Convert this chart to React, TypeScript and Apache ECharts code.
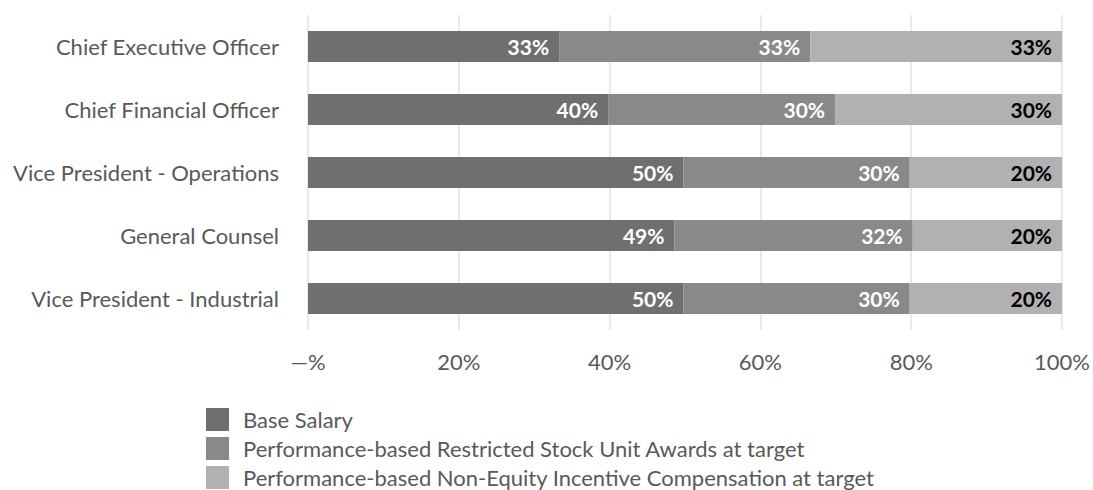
import React, { useEffect, useRef } from "react";
import * as echarts from "echarts";

const categories = [
  "Chief Executive Officer",
  "Chief Financial Officer",
  "Vice President - Operations",
  "General Counsel",
  "Vice President - Industrial",
];
const baseSalary = [33.3, 39.8, 49.8, 48.6, 49.8];
const rsuAwards = [33.3, 30.1, 30.0, 31.6, 30.0];
const nonEquity = [33.4, 30.1, 20.2, 19.8, 20.2];
const baseLabels = ["33%", "40%", "50%", "49%", "50%"];
const rsuLabels = ["33%", "30%", "30%", "32%", "30%"];
const nonEquityLabels = ["33%", "30%", "20%", "20%", "20%"];
const seriesNames = [
  "Base Salary",
  "Performance-based Restricted Stock Unit Awards at target",
  "Performance-based Non-Equity Incentive Compensation at target",
];
const xTicks = [0, 20, 40, 60, 80, 100];

const FONT = "Lato";
const TEXT = "#595959";

export default function App() {
  const ref = useRef<HTMLDivElement>(null);
  useEffect(() => {
    if (!ref.current) return;
    const chart = echarts.init(ref.current, null, { renderer: "svg" });
    const mk = (
      name: string,
      data: number[],
      labels: string[],
      color: string,
      labelColor: string
    ) => ({
      type: "bar",
      name,
      stack: "total",
      barWidth: "49%",
      data,
      itemStyle: { color },
      label: {
        show: true,
        position: "insideRight",
        distance: 10,
        color: labelColor,
        fontFamily: FONT,
        fontWeight: "bold",
        fontSize: 21,
        formatter: (p: any) => labels[p.dataIndex],
      },
    });
    chart.setOption({
      animation: false,
      textStyle: { fontFamily: FONT },
      grid: { left: 308, right: 25, top: 15, bottom: 160, containLabel: false },
      xAxis: {
        type: "value",
        min: xTicks[0],
        max: xTicks[xTicks.length - 1],
        interval: 20,
        axisLine: { show: false },
        axisTick: { show: false },
        splitLine: { lineStyle: { color: "#e3e3e3", width: 1.5 } },
        axisLabel: {
          color: TEXT,
          fontSize: 22,
          fontFamily: FONT,
          margin: 20,
          formatter: (v: number) => (v === xTicks[0] ? "\u2014%" : v + "%"),
        },
      },
      yAxis: {
        type: "category",
        inverse: true,
        data: categories,
        axisLine: { show: false },
        axisTick: { show: false },
        axisLabel: { color: TEXT, fontSize: 22, fontFamily: FONT, margin: 29 },
      },
      legend: {
        orient: "vertical",
        left: 206,
        top: 408,
        padding: 0,
        itemWidth: 23,
        itemHeight: 23,
        itemGap: 6,
        icon: "rect",
        textStyle: { color: TEXT, fontSize: 22, fontFamily: FONT, padding: [0, 0, 0, 9] },
        data: seriesNames,
      },
      series: [
        mk(seriesNames[0], baseSalary, baseLabels, "#6f6f6f", "#ffffff"),
        mk(seriesNames[1], rsuAwards, rsuLabels, "#898989", "#ffffff"),
        mk(seriesNames[2], nonEquity, nonEquityLabels, "#b1b1b1", "#000000"),
      ],
    });
    return () => chart.dispose();
  }, []);
  return (
    <div
      ref={ref}
      style={{ width: 1093, height: 490, position: "absolute", left: 0, top: 0 }}
    />
  );
}
